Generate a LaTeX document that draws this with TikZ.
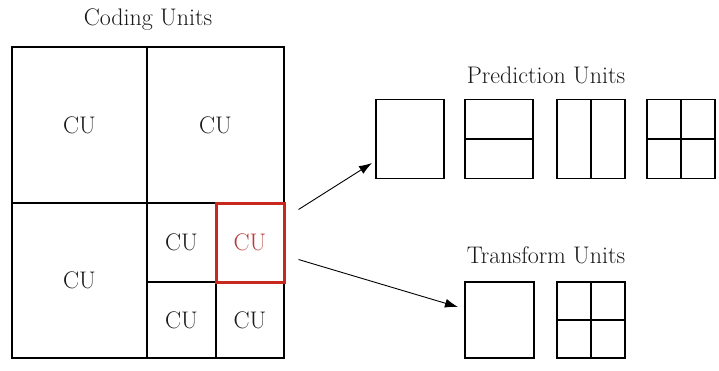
\documentclass[tikz,border=0pt]{standalone}
\usepackage{xcolor}
\usepackage{tikz}
\usetikzlibrary{positioning, arrows.meta}

\definecolor{cured}{HTML}{C8281E}
\definecolor{cutext}{HTML}{B83C3C}

\tikzset{
    cell/.style={draw, line width=1.2pt, inner sep=0pt},
    unitbox/.style={draw, line width=1.5pt, inner sep=0pt, outer sep=0pt,
        minimum width=68pt, minimum height=79pt},
    title/.style={text=black!90},
    split/.style={line width=1.8pt}
}

\begin{document}
\begin{tikzpicture}[x=1pt, y=-1pt, >={Latex[length=13pt,width=9pt]},
    font=\fontsize{24}{28}\selectfont, text=black!90]
    \useasboundingbox (0,0) rectangle (719,370);

    % Coding units (quad-tree)
    \node[title] (cutitle) at (148,20) {Coding Units};
    \node[cell, minimum width=135pt, minimum height=156pt] (cu1) at (79.5,125) {CU};
    \node[cell, minimum width=137pt, minimum height=156pt] (cu2) at (215.5,125) {CU};
    \node[cell, minimum width=135pt, minimum height=155pt] (cu3) at (79.5,280.5) {CU};
    \node[cell, minimum width=69pt, minimum height=79pt] (cu4) at (181.5,242.5) {CU};
    \node[cell, minimum width=69pt, minimum height=76pt] (cu6) at (181.5,320) {CU};
    \node[cell, minimum width=68pt, minimum height=76pt] (cu7) at (250,320) {CU};
    \node[cell, draw=cured, line width=3pt, text=cutext,
        minimum width=68pt, minimum height=79pt] (cured) at (250,242.5) {CU};

    % Prediction units
    \node[unitbox] (pu1) at (410,139) {};
    \node[unitbox, right=21pt of pu1] (pu2) {};
    \node[unitbox, right=24pt of pu2] (pu3) {};
    \node[unitbox, right=22pt of pu3] (pu4) {};
    \node[title] (putitle) at (546,75) {Prediction Units};
    \draw[split] (pu2.west) -- (pu2.east);
    \draw[split] (pu3.north) -- (pu3.south);
    \draw[split] (pu4.west) -- (pu4.east);
    \draw[split] (pu4.north) -- (pu4.south);

    % Transform units
    \node[unitbox, minimum width=69pt, minimum height=76pt] (tu1) at (499.5,320) {};
    \node[unitbox, minimum height=76pt, right=23pt of tu1] (tu2) {};
    \node[title] (tutitle) at (546,255) {Transform Units};
    \draw[split] (tu2.west) -- (tu2.east);
    \draw[split] (tu2.north) -- (tu2.south);

    % Pfeile
    \draw[->, line width=0.9pt] ([shift={(13,8)}]cured.north east) -- ([shift={(-4,24)}]pu1.west);
    \draw[->, line width=0.9pt] ([shift={(13,-24)}]cured.south east) -- ([shift={(-7,-13)}]tu1.west);
\end{tikzpicture}
\end{document}
